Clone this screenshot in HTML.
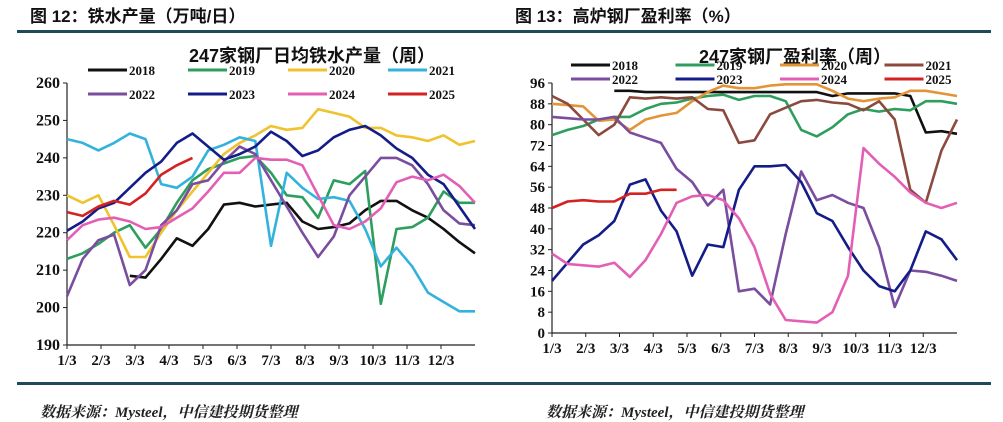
<!DOCTYPE html>
<html><head><meta charset="utf-8">
<style>
body{margin:0;width:1003px;height:418px;background:#fff;overflow:hidden;position:relative;font-family:"Liberation Sans","Noto Sans CJK SC",sans-serif;}
.hdr{position:absolute;top:2px;font-weight:bold;font-size:17px;color:#111;}
.src{position:absolute;top:401px;font-family:"Liberation Serif","Noto Serif CJK SC",serif;font-style:italic;font-weight:bold;font-size:15px;color:#222;}
.rule{position:absolute;height:3px;background:#1e4a5c;}
svg{position:absolute;left:0;top:0;}
</style></head><body>
<div class="hdr" style="left:30px">图 12：铁水产量（万吨/日）</div>
<div class="hdr" style="left:515px">图 13：高炉钢厂盈利率（%）</div>
<div class="rule" style="left:17px;top:30px;width:974px"></div>
<div class="rule" style="left:17px;top:382px;width:974px"></div>
<div class="src" style="left:40px">数据来源：Mysteel，中信建投期货整理</div>
<div class="src" style="left:546px">数据来源：Mysteel，中信建投期货整理</div>
<svg id="chart" width="1003" height="418"></svg>
<script>
const years = ["2018","2019","2020","2021","2022","2023","2024","2025"];
const monthLabels = ["1/3","2/3","3/3","4/3","5/3","6/3","7/3","8/3","9/3","10/3","11/3","12/3"];
const leftTicks = [190,200,210,220,230,240,250,260];
const rightTicks = [0,8,16,24,32,40,48,56,64,72,80,88,96];
const leftStart = [8,0,0,0,0,0,0,0];
const iron2018 = [208.5,208,213,218.5,216.5,221,227.5,228,227,227.5,228,223,221,221.5,222.5,226,228.5,228.5,226,224,221,217.5,214.5];
const iron2019 = [213,214.5,217,220,222,216,221,228,234,237,238.5,240,240.5,236,230,229.5,224,234,233,236.5,201,221,221.5,224,231,228,228];
const iron2020 = [230,228,230,222,213.5,213.5,220,226,231,236,241,244,246,248.5,247.5,248,253,252,251,248,248,246,245.5,244.5,246,243.5,244.5];
const iron2021 = [245,244,242,244,246.5,245,233,232,235,242,243.5,245.5,244.5,216.5,236,232,229,229.5,228.5,221,211,216,211,204,201.5,199,199];
const iron2022 = [203,213,218,219.5,206,210,222,226,233,234,239,243,241,234,227,220,213.5,219,230,235,240,240,238,233,226,222.5,222];
const iron2023 = [220.5,223,226.5,228,232,236,239,244,246.5,243,239.5,241,243,247,244.5,240.5,242,245.5,247.5,248.5,246,242.5,240,235.5,233,227,221];
const iron2024 = [218,222,223.5,224,223,221,221.5,224,226.5,231,236,236,240,239.5,239.5,238,230,222,221,223,226.5,233.5,235,234,235.5,232.5,228];
const iron2025 = [225.5,224.5,227,228.5,227.5,230.5,235.5,238,240];
const rightStart = [8,0,0,0,0,0,0,0];
const prof2018 = [93,93,92.5,92.5,92.5,92.5,92.5,92.5,92.5,92.5,92.5,92.5,92.5,92.5,91,92,92,92,92,91,77,77.5,76.5];
const prof2019 = [76,78,79.5,82,83,83,86,88,88.5,90,91,91.5,89.5,91,91,89,78,75.5,79,84,86,85,86,85.5,89,89,88];
const prof2020 = [88,87.5,87,81.5,82,78,82,83.5,84.5,89,92.5,95,94,94,95,95.5,95.5,95.5,93,90,89,90,90.5,93,93,92,91];
const prof2021 = [91,88,82,76,80,90.5,90,90.5,90,90.5,86,85.5,73,74,84,86.5,89,89.5,88.5,88,85.5,89,82,55,50,70,82];
const prof2022 = [83,82.5,82,82,83,77,75,73,63,58,49,55,16,17,11,38,62,51,53,50,48,33,10,24,23.5,22,20];
const prof2023 = [20,27,34,37.5,43,57,59,47,39,22,34,33,55,64,64,64.5,58,46,43,33,24,18,16,24,39,36,28];
const prof2024 = [30.5,26.5,26,25.5,27,21.5,28,38,50,52.5,53,51,44,33,15,5,4.5,4,8,22,71,65,60,54,50,48,50];
const prof2025 = [48,50.5,51,50.5,50.5,53.5,53.5,55,55];
const leftSeries = [iron2018,iron2019,iron2020,iron2021,iron2022,iron2023,iron2024,iron2025];
const rightSeries = [prof2018,prof2019,prof2020,prof2021,prof2022,prof2023,prof2024,prof2025];
const leftColors = ["#111","#2e9e5e","#f0c32e","#33b3dc","#7a4d9e","#141c88","#e35fb6","#d42222"];
const rightColors = ["#111","#2e9e5e","#e39436","#8b4a3e","#7a4d9e","#141c88","#e35fb6","#d42222"];

const NS="http://www.w3.org/2000/svg";
const svg=document.getElementById('chart');
function mk(tag,attrs,parent){const e=document.createElementNS(NS,tag);for(const k in attrs)e.setAttribute(k,attrs[k]);(parent||svg).appendChild(e);return e;}

function drawChart(cfg){
  const g=mk('g',{});
  
  
  const xs=w=>cfg.x0+(cfg.x1-cfg.x0)*w/52;
  const ys=v=>cfg.yb+(cfg.yt-cfg.yb)*(v-cfg.vmin)/(cfg.vmax-cfg.vmin);
  const t=mk('text',{x:cfg.titleX,y:cfg.titleY,'text-anchor':'middle','font-size':cfg.titleSize,'font-weight':'bold',fill:'#111','font-family':'"Liberation Sans","Noto Sans CJK SC",sans-serif'},g);
  t.textContent=cfg.title;
  
  
  const ya=mk('line',{x1:cfg.x0,x2:cfg.x0,y1:cfg.yt,y2:cfg.yb,stroke:'#222','stroke-width':1.2},g);
  
  
  const xa=mk('line',{x1:cfg.x0,x2:cfg.x1,y1:cfg.yb,y2:cfg.yb,stroke:'#222','stroke-width':1.2},g);
  
  
  cfg.ticks.forEach(v=>{
    const y=ys(v);
    mk('line',{x1:cfg.x0-4,x2:cfg.x0,y1:y,y2:y,stroke:'#222'},g);
    const tl=mk('text',{x:cfg.x0-7,y:y+5,'text-anchor':'end','font-size':cfg.tickSize,'font-weight':'bold',fill:'#111','font-family':'"Liberation Serif",serif'},g);
    tl.textContent=v;
    
    
  });
  monthLabels.forEach((m,i)=>{
    const x=xs(i*52/12);
    mk('line',{x1:x,x2:x,y1:cfg.yb,y2:cfg.yb+4,stroke:'#222'},g);
    const tl=mk('text',{x:x,y:cfg.yb+cfg.xlabOff,'text-anchor':'middle','font-size':cfg.xSize,'font-weight':'bold',fill:'#111','font-family':'"Liberation Serif",serif'},g);
    tl.textContent=m;
    
    
  });
  cfg.series.forEach((arr,si)=>{
    const pts=arr.map((v,i)=>xs(cfg.start[si]+i*2).toFixed(1)+','+ys(v).toFixed(1)).join(' ');
    const p=mk('polyline',{points:pts,fill:'none',stroke:cfg.colors[si],'stroke-width':2.6,'stroke-linejoin':'round'},g);
    
    
  });
  years.forEach((yr,i)=>{
    const col=i%4,row=Math.floor(i/4);
    const lx=cfg.legX+col*cfg.legDX, ly=cfg.legY+row*cfg.legDY;
    const lg=mk('g',{},g);
    
    
    mk('line',{x1:lx,x2:lx+39,y1:ly,y2:ly,stroke:cfg.colors[i],'stroke-width':3},lg);
    const tt=mk('text',{x:lx+41,y:ly+5,'font-size':cfg.legSize,'font-weight':'bold',fill:'#111','font-family':'"Liberation Serif",serif'},lg);
    tt.textContent=yr;
  });
}
drawChart({name:'iron-output-chart',x0:67,x1:475,yt:83,yb:345,vmin:190,vmax:260,ticks:leftTicks,series:leftSeries,start:leftStart,colors:leftColors,
  title:'247家钢厂日均铁水产量（周）',titleX:312,titleY:62,titleSize:18,tickSize:16,xSize:15,xlabOff:20,legX:88,legY:70,legDX:100,legDY:24,legSize:13});
drawChart({name:'profit-rate-chart',x0:552,x1:957,yt:83,yb:333,vmin:0,vmax:96,ticks:rightTicks,series:rightSeries,start:rightStart,colors:rightColors,
  title:'247家钢厂盈利率（周）',titleX:795,titleY:63,titleSize:18,tickSize:15,xSize:15,xlabOff:20,legX:571,legY:65,legDX:104.5,legDY:14,legSize:13});
</script>
</body></html>
